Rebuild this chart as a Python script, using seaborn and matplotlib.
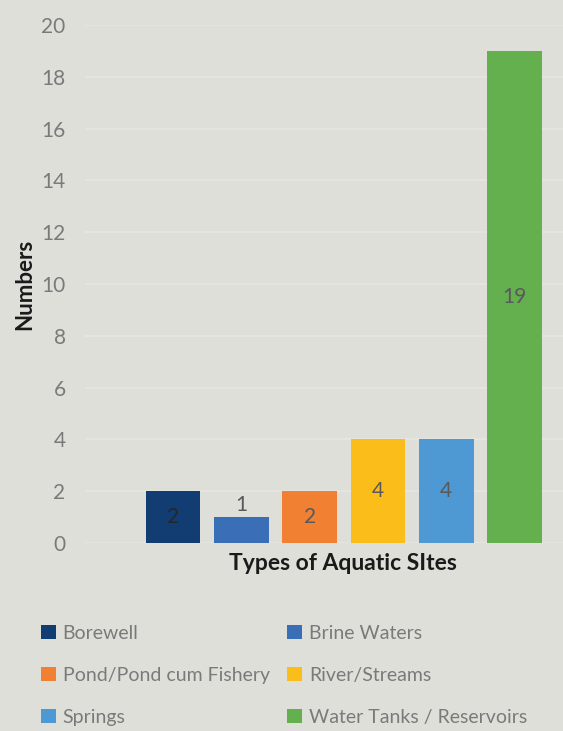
import matplotlib
matplotlib.use("Agg")
import matplotlib.pyplot as plt
from matplotlib.patches import Patch
import seaborn as sns
import pandas as pd

# Counts of sampled aquatic sites by type
site_types = ["Borewell", "Brine Waters", "Pond/Pond cum Fishery",
              "River/Streams", "Springs", "Water Tanks / Reservoirs"]
counts = [2, 1, 2, 4, 4, 19]
bar_colors = ["#123d73", "#3a6fb8", "#f28033", "#fbbd1a", "#4e98d3", "#64b04f"]
label_colors = ["#262626", "#595959", "#595959", "#595959", "#595959", "#595959"]
y_ticks = list(range(0, 21, 2))

bg = "#dfdfda"
sns.set_theme(style="white")
plt.rcParams["font.family"] = ["Lato", "DejaVu Sans"]

fig = plt.figure(figsize=(5.63, 7.31), dpi=100, facecolor=bg)
ax = fig.add_axes([0.151, 0.2572, 0.849, 0.7086])
ax.set_facecolor(bg)

df = pd.DataFrame({"site": site_types, "count": counts})
palette = dict(zip(site_types, bar_colors))
sns.barplot(data=df, x="site", y="count", hue="site", palette=palette,
            width=0.8, saturation=1, legend=False, ax=ax, zorder=3,
            linewidth=0, edgecolor="none")

ax.set_xlim(-1.29, 5.71)
ax.set_ylim(0, 20)
ax.set_yticks(y_ticks)
ax.set_yticklabels([str(t) for t in y_ticks], fontsize=15, color="#7a7a7a")
ax.tick_params(axis="y", length=0, pad=14)
ax.set_xticks([])
ax.grid(axis="y", color="#e6e6e2", linewidth=1.2, zorder=0)
ax.set_axisbelow(True)
for s in ax.spines.values():
    s.set_visible(False)

# Value labels: centred in the bar, or just above it when the bar is short
for i, (v, c) in enumerate(zip(counts, label_colors)):
    if v < 2:
        ax.text(i, v + 0.45, str(v), ha="center", va="center",
                fontsize=15, color=c, zorder=4)
    else:
        ax.text(i, v / 2, str(v), ha="center", va="center",
                fontsize=15, color=c, zorder=4)

ax.set_xlabel("Types of Aquatic SItes", fontsize=16.5, fontweight="bold",
              color="#1a1a1a")
ax.set_ylabel("Numbers", fontsize=16, fontweight="bold", color="#1a1a1a")
ax.xaxis.set_label_coords(0.54, -0.02, transform=ax.transAxes)
ax.xaxis.label.set_va("top")
ax.yaxis.set_label_coords(-0.105, 0.5, transform=ax.transAxes)

handles = [Patch(facecolor=c, edgecolor="none", label=n)
           for n, c in zip(site_types, bar_colors)]
# Row-major order: two columns
order = [0, 2, 4, 1, 3, 5]
leg = fig.legend([handles[i] for i in order], [site_types[i] for i in order],
                 ncol=2, loc="upper left", bbox_to_anchor=(0.042, 0.169),
                 frameon=False, fontsize=14, labelcolor="#7a7a7a",
                 handlelength=0.75, handleheight=0.75, handletextpad=0.35,
                 columnspacing=0.92, labelspacing=1.28)

fig.savefig("out.png", dpi=100, facecolor=bg)
